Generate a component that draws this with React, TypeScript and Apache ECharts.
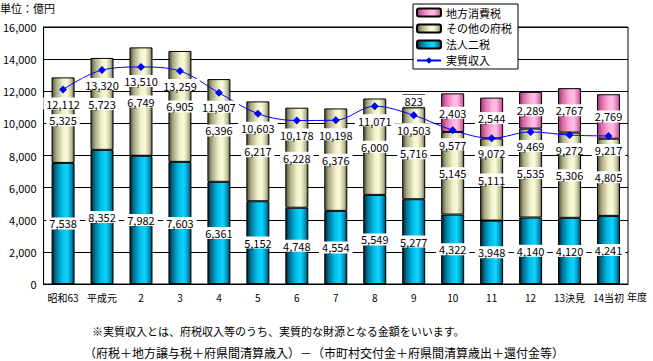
import React, { useEffect, useRef } from "react";
import * as echarts from "echarts";

const categories = ["昭和63", "平成元", "2", "3", "4", "5", "6", "7", "8", "9", "10", "11", "12", "13決見", "14当初"];
const houjinNizei = [7538, 8352, 7982, 7603, 6361, 5152, 4748, 4554, 5549, 5277, 4322, 3948, 4140, 4120, 4241];
const sonotaFuzei = [5325, 5723, 6749, 6905, 6396, 6217, 6228, 6376, 6000, 5716, 5145, 5111, 5535, 5306, 4805];
const chihouShouhizei = [null, null, null, null, null, null, null, null, null, 823, 2403, 2544, 2289, 2767, 2769];
const jisshitsuShuunyuu = [12112, 13320, 13510, 13259, 11907, 10603, 10178, 10198, 11071, 10503, 9577, 9072, 9469, 9272, 9217];
const yTicks = { min: 0, max: 16000, interval: 2000 };

const FONT = "'Noto Sans CJK JP', sans-serif";

const grad = (stops: [number, string][]) =>
  new echarts.graphic.LinearGradient(0, 0, 1, 0, stops.map(([offset, color]) => ({ offset, color })));

const cyan = grad([
  [0, "#001820"],
  [0.15, "#006a8a"],
  [0.45, "#00bce8"],
  [0.68, "#10d4ff"],
  [0.88, "#0090b8"],
  [1, "#003848"],
]);
const khaki = grad([
  [0, "#50503a"],
  [0.18, "#a8a884"],
  [0.5, "#f2f2cc"],
  [0.68, "#fafad8"],
  [0.88, "#c0c09a"],
  [1, "#606048"],
]);
const pink = grad([
  [0, "#903868"],
  [0.18, "#d868a8"],
  [0.5, "#ffb0dc"],
  [0.7, "#ffc0e4"],
  [0.9, "#e070b0"],
  [1, "#a04878"],
]);

const fmt = (v: number) => v.toLocaleString("en-US");

const labelStyle = {
  show: true,
  color: "#000",
  fontSize: 11,
  fontFamily: FONT,
  backgroundColor: "#fff",
  padding: [1, 3, 0, 3],
  formatter: (p: any) => (p.value == null ? "" : fmt(p.value)),
};

export default function App() {
  const ref = useRef<HTMLDivElement>(null);
  useEffect(() => {
    const chart = echarts.init(ref.current!, null, { renderer: "svg" });
    chart.setOption({
      animation: false,
      textStyle: { fontFamily: FONT },
      grid: { left: 42, right: 25, top: 27, bottom: 77, show: true, borderColor: "#000", borderWidth: 1 },
      legend: {
        orient: "vertical",
        left: 413,
        top: 4,
        backgroundColor: "#fff",
        borderColor: "#000",
        borderWidth: 1,
        padding: [3, 6, 3, 3],
        itemWidth: 24,
        itemHeight: 8,
        itemGap: 5,
        textStyle: { fontSize: 11, color: "#000", fontFamily: FONT },
        data: ["地方消費税", "その他の府税", "法人二税", "実質収入"],
      },
      xAxis: {
        type: "category",
        data: categories,
        axisLine: { lineStyle: { color: "#000", width: 1 } },
        axisTick: { show: false },
        axisLabel: { color: "#000", fontSize: 10, margin: 8, interval: 0, fontFamily: FONT },
      },
      yAxis: {
        type: "value",
        min: yTicks.min,
        max: yTicks.max,
        interval: yTicks.interval,
        axisLine: { show: true, lineStyle: { color: "#000", width: 1 } },
        axisTick: { show: false },
        splitLine: { lineStyle: { color: "#000", width: 1 } },
        axisLabel: { color: "#000", fontSize: 11, margin: 7, formatter: (v: number) => fmt(v), fontFamily: FONT },
      },
      series: [
        {
          name: "法人二税",
          type: "bar",
          stack: "a",
          barWidth: 23,
          data: houjinNizei,
          itemStyle: { color: cyan, borderColor: "#000", borderWidth: 1 },
          label: { ...labelStyle, position: "inside" },
        },
        {
          name: "その他の府税",
          type: "bar",
          stack: "a",
          barWidth: 23,
          data: sonotaFuzei,
          itemStyle: { color: khaki, borderColor: "#000", borderWidth: 1 },
          label: { ...labelStyle, position: "inside" },
        },
        {
          name: "地方消費税",
          type: "bar",
          stack: "a",
          barWidth: 23,
          data: chihouShouhizei,
          itemStyle: { color: pink, borderColor: "#000", borderWidth: 1 },
          label: { ...labelStyle, position: "inside" },
        },
        {
          name: "実質収入",
          type: "line",
          data: jisshitsuShuunyuu,
          smooth: 0.35,
          symbol: "diamond",
          symbolSize: 8,
          z: 5,
          lineStyle: { color: "#0000ff", width: 1 },
          itemStyle: { color: "#0000ff" },
          label: { ...labelStyle, position: "bottom", distance: 4 },
        },
      ],
      graphic: [
        { type: "text", left: 0, top: 2, style: { text: "単位：億円", fill: "#000", font: `11px ${FONT}` } },
        { type: "text", left: 627, top: 291, style: { text: "年度", fill: "#000", font: `10px ${FONT}` } },
        {
          type: "text",
          left: 92,
          top: 325,
          style: { text: "※実質収入とは、府税収入等のうち、実質的な財源となる金額をいいます。", fill: "#000", font: `11px ${FONT}` },
        },
        {
          type: "text",
          left: 84,
          top: 346,
          style: {
            text: "（府税＋地方譲与税＋府県間清算歳入）－（市町村交付金＋府県間清算歳出＋還付金等）",
            fill: "#000",
            font: `12px ${FONT}`,
          },
        },
      ],
    });
    return () => chart.dispose();
  }, []);
  return <div ref={ref} style={{ width: 653, height: 361, position: "absolute", left: 0, top: 0 }} />;
}
